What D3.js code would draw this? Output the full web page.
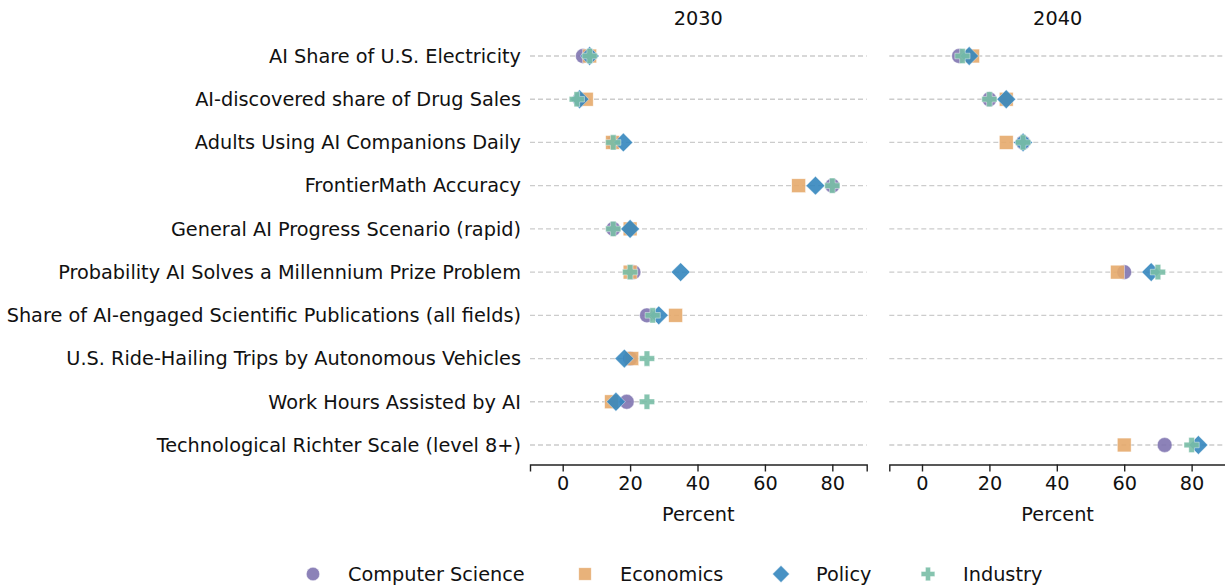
<!DOCTYPE html>
<head>
  <meta charset="utf-8">
  <script src="https://d3js.org/d3.v7.min.js"></script>
  <style>
    body { margin:0; background:#fff; }
    text { font-family: "DejaVu Sans", sans-serif; fill:#111; }
  </style>
</head>
<body>
<svg width="1225" height="587" id="vis"></svg>
<script>
var questions = [
  "AI Share of U.S. Electricity",
  "AI-discovered share of Drug Sales",
  "Adults Using AI Companions Daily",
  "FrontierMath Accuracy",
  "General AI Progress Scenario (rapid)",
  "Probability AI Solves a Millennium Prize Problem",
  "Share of AI-engaged Scientific Publications (all fields)",
  "U.S. Ride-Hailing Trips by Autonomous Vehicles",
  "Work Hours Assisted by AI",
  "Technological Richter Scale (level 8+)"
];
var years = ["2030", "2040"];
var groups = ["Computer Science", "Economics", "Policy", "Industry"];
var colors = ["#7f74b0", "#e5aa6c", "#3486be", "#79bea6"];
var xTicks = [0, 20, 40, 60, 80];

// values per group, [2030 list, 2040 list], null = no forecast
var cs2030 = [6, 5, 15, 80, 15, 21, 25, 20, 19, null];
var cs2040 = [11, 20, 30, null, null, 60, null, null, null, 72];
var econ2030 = [8, 7, 14.8, 70, 20, 20, 33.5, 20.5, 14.5, null];
var econ2040 = [15, 25, 25, null, null, 58, null, null, null, 60];
var policy2030 = [8, 5, 18, 75, 20, 35, 28.5, 18.3, 15.8, null];
var policy2040 = [14, 25, 30, null, null, 68, null, null, null, 82];
var ind2030 = [8, 4.2, 15, 80, 15, 20, 26.7, 25, 25, null];
var ind2040 = [12, 20, 30, null, null, 70, null, null, null, 80];

var series = [
  [cs2030, cs2040],
  [econ2030, econ2040],
  [policy2030, policy2040],
  [ind2030, ind2040]
];

var svg = d3.select("#vis");
var rowTop = 34.4, rowBottom = 466.6, axisY = 464.5;
var fs = "19.3px";
var panels = [{x0: 530, x1: 866.7}, {x0: 889.3, x1: 1226}];

var y = d3.scaleBand().domain(questions).range([rowTop, rowBottom]);

function marker(sel, gi, cx, cy, scale) {
  var s = scale || 1;
  var c = colors[gi];
  var g = sel.append("g").attr("transform", "translate(" + cx + "," + cy + ")");
  if (gi === 0) {
    g.append("circle").attr("r", 7.4 * s).attr("fill", c);
  } else if (gi === 1) {
    g.append("rect").attr("x", -6.9 * s).attr("y", -6.9 * s)
      .attr("width", 13.8 * s).attr("height", 13.8 * s).attr("fill", c);
  } else if (gi === 2) {
    var d = 9.4 * s;
    g.append("path").attr("d", "M0," + (-d) + "L" + d + ",0L0," + d + "L" + (-d) + ",0Z").attr("fill", c);
  } else {
    var a = 7.6 * s, b = 2.8 * s;
    g.append("path").attr("d",
      "M" + (-b) + "," + (-a) + "H" + b + "V" + (-b) + "H" + a + "V" + b + "H" + b + "V" + a +
      "H" + (-b) + "V" + b + "H" + (-a) + "V" + (-b) + "H" + (-b) + "Z").attr("fill", c);
  }
  g.attr("fill-opacity", 0.9).selectAll("*").attr("stroke", "#fff").attr("stroke-width", 0.6).attr("stroke-opacity", 0.7);
  return g;
}

panels.forEach(function(p, pi) {
  var x = d3.scaleLinear().domain([-9.7, 90.2]).range([p.x0, p.x1]);
  var g = svg.append("g");

  // dashed row lines
  g.selectAll("line.grid").data(questions).enter().append("line")
    .attr("x1", p.x0).attr("x2", p.x1)
    .attr("y1", function(d) { return y(d) + y.bandwidth() / 2; })
    .attr("y2", function(d) { return y(d) + y.bandwidth() / 2; })
    .attr("stroke", "#cccccc").attr("stroke-width", 1.3).attr("stroke-dasharray", "5,3");

  // x axis
  var ax = g.append("g")
    .attr("transform", "translate(0," + axisY + ")")
    .call(d3.axisBottom(x).tickValues(xTicks).tickSizeOuter(0).tickSize(7).tickPadding(5));
  ax.select(".domain").attr("stroke", "#222").attr("stroke-width", 1.4);
  ax.selectAll(".tick line").attr("stroke", "#222").attr("stroke-width", 1.4);
  ax.selectAll(".tick text").style("font-size", fs).style("font-family", "DejaVu Sans").attr("fill", "#111");

  g.append("text").attr("x", (p.x0 + p.x1) / 2).attr("y", 514).attr("dy", "0.35em")
    .attr("text-anchor", "middle").style("font-size", fs).text("Percent");
  g.append("text").attr("x", (p.x0 + p.x1) / 2).attr("y", 18).attr("dy", "0.35em")
    .attr("text-anchor", "middle").style("font-size", fs).text(years[pi]);

  if (pi === 0) {
    g.selectAll("text.cat").data(questions).enter().append("text")
      .attr("x", 521).attr("y", function(d) { return y(d) + y.bandwidth() / 2; })
      .attr("dy", "0.35em").attr("text-anchor", "end").style("font-size", fs)
      .text(function(d) { return d; });
  }

  series.forEach(function(sv, gi) {
    var vals = sv[pi];
    questions.forEach(function(q, qi) {
      if (vals[qi] === null) return;
      marker(g, gi, x(vals[qi]), y(q) + y.bandwidth() / 2);
    });
  });
});

// legend
var legX = [313, 585, 781, 928];
groups.forEach(function(name, gi) {
  marker(svg, gi, legX[gi], 574, 0.9);
  svg.append("text").attr("x", legX[gi] + 35).attr("y", 574).attr("dy", "0.35em")
    .style("font-size", fs).text(name);
});
</script>
</body>
